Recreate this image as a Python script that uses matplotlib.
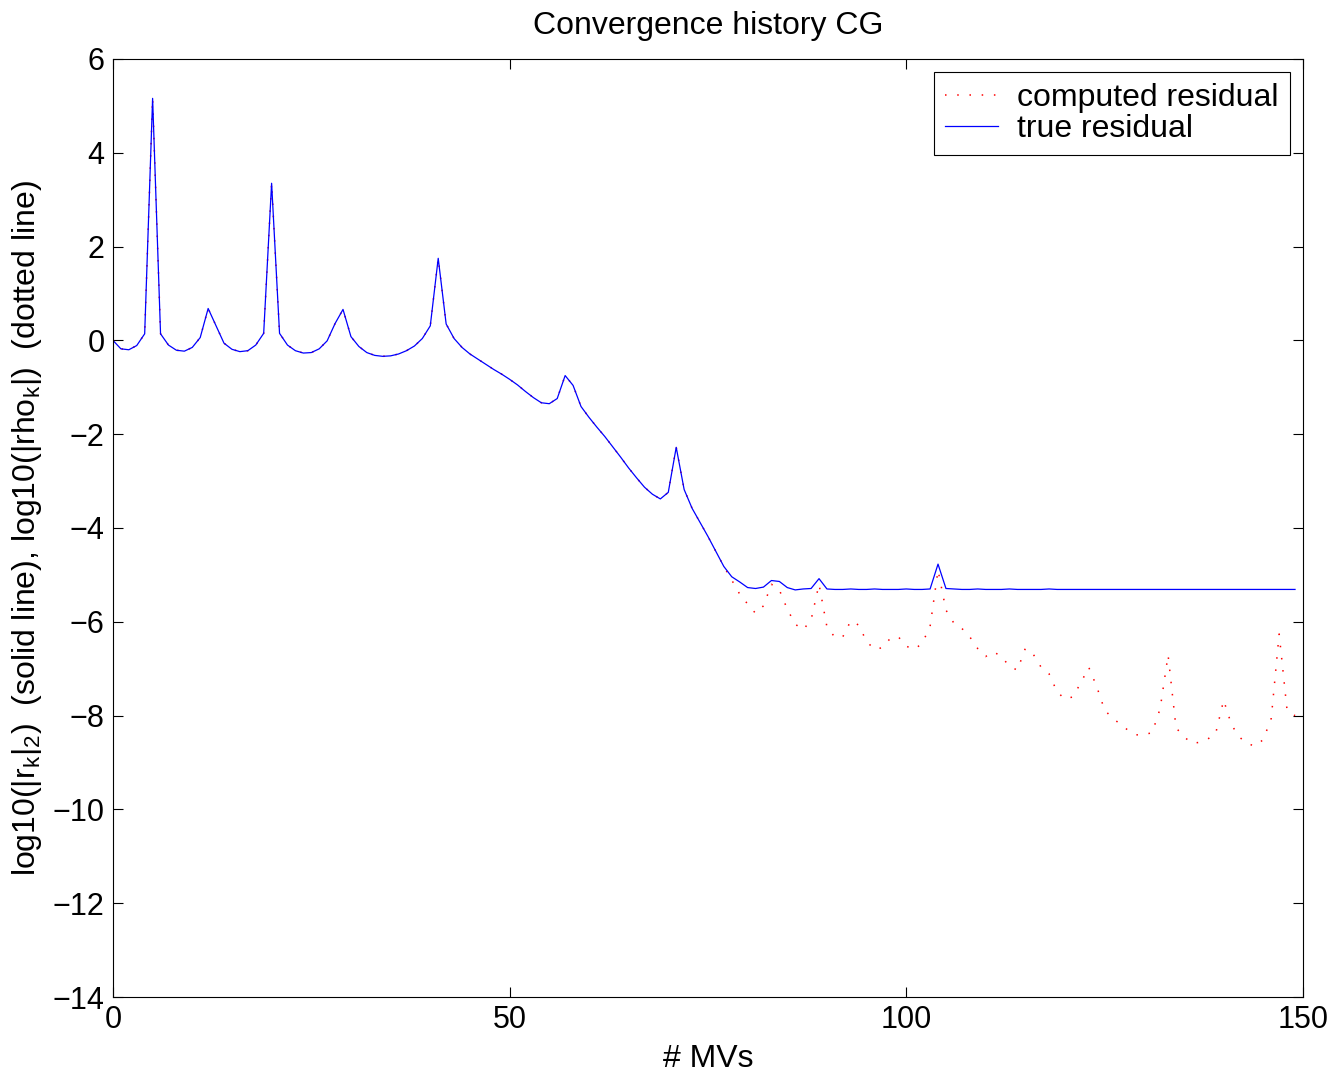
import numpy as np
import matplotlib
matplotlib.use("Agg")
import matplotlib.pyplot as plt

plt.rcParams['font.family'] = ['Liberation Sans', 'DejaVu Sans']
plt.rcParams['mathtext.fontset'] = 'custom'
plt.rcParams['mathtext.rm'] = 'Liberation Sans'
plt.rcParams['mathtext.it'] = 'Liberation Sans'
plt.rcParams['axes.linewidth'] = 0.8

# ---- data: log10 residual norms per matrix-vector product ----
mvs = np.arange(150)

true_res = [
    0.00, -0.18, -0.20, -0.11, 0.14, 5.16, 0.14, -0.10, -0.21, -0.23,
    -0.15, 0.06, 0.68, 0.31, -0.06, -0.19, -0.24, -0.22, -0.10, 0.15,
    3.35, 0.15, -0.10, -0.22, -0.27, -0.26, -0.18, -0.01, 0.36, 0.66,
    0.08, -0.13, -0.26, -0.32, -0.34, -0.33, -0.29, -0.22, -0.12, 0.04,
    0.31, 1.75, 0.35, 0.04, -0.15, -0.29, -0.40, -0.51, -0.62, -0.72,
    -0.83, -0.95, -1.09, -1.22, -1.33, -1.35, -1.24, -0.75, -0.96, -1.41,
    -1.64, -1.85, -2.05, -2.27, -2.49, -2.72, -2.93, -3.13, -3.28, -3.38,
    -3.24, -2.28, -3.18, -3.58, -3.88, -4.18, -4.50, -4.82, -5.04, -5.15,
    -5.27, -5.29, -5.26, -5.12, -5.14, -5.27, -5.32, -5.30, -5.29, -5.08,
    -5.30, -5.31, -5.31, -5.30, -5.31, -5.31, -5.30, -5.31, -5.31, -5.31,
    -5.30, -5.31, -5.31, -5.30, -4.77, -5.29, -5.30, -5.31, -5.31, -5.30,
    -5.31, -5.31, -5.31, -5.30, -5.31, -5.31, -5.31, -5.31, -5.30, -5.31,
    -5.31, -5.31, -5.31, -5.31, -5.31, -5.31, -5.31, -5.31, -5.31, -5.31,
    -5.31, -5.31, -5.31, -5.31, -5.31, -5.31, -5.31, -5.31, -5.31, -5.31,
    -5.31, -5.31, -5.31, -5.31, -5.31, -5.31, -5.31, -5.31, -5.31, -5.31,
]

# recursively updated residual |rho_k| departs from the true one after 78 MVs
computed_tail = [
    -5.11, -5.41, -5.62, -5.82, -5.66, -5.20, -5.32, -5.73, -6.05, -6.17,
    -5.96, -5.20, -6.11, -6.33, -6.32, -5.98, -6.07, -6.42, -6.59, -6.55,
    -6.35, -6.32, -6.52, -6.59, -6.46, -6.10, -4.90, -5.75, -6.03, -6.14,
    -6.32, -6.57, -6.74, -6.64, -6.74, -6.95, -7.03, -6.57, -6.69, -6.97,
    -7.11, -7.49, -7.65, -7.60, -7.30, -6.97, -7.38, -7.88, -8.06, -8.18,
    -8.32, -8.41, -8.41, -8.36, -7.85, -6.71, -8.26, -8.45, -8.59, -8.57,
    -8.50, -8.38, -7.67, -8.20, -8.46, -8.60, -8.65, -8.51, -8.06, -6.26,
    -7.89, -8.00,
]
computed_res = true_res[:78] + computed_tail

fig = plt.figure(figsize=(13.35, 10.76), dpi=100)
ax = fig.add_axes([0.0846, 0.0734, 0.8914, 0.8718])

ax.plot(mvs, computed_res, color='#ff0000', lw=1.1, linestyle=(0, (1.0, 7.0)),
        label='computed residual')
ax.plot(mvs, true_res, color='#0000ff', lw=0.9, label='true residual')

ax.set_xlim(0, 150)
ax.set_ylim(-14, 6)
ax.set_xticks([0, 50, 100, 150])
ax.set_yticks(np.arange(-14, 7, 2))
ax.set_yticklabels([str(v).replace('-', '\u2212') for v in range(-14, 7, 2)])
ax.tick_params(direction='in', top=True, right=True, length=7.5, width=0.8,
               labelsize=22, pad=6)

ax.set_title('Convergence history CG', fontsize=23, pad=18)
ax.set_xlabel('# MVs', fontsize=23, labelpad=6)
ax.set_ylabel(r'log10(|r$_\mathrm{k}$|$_\mathrm{2}$)  (solid line), '
              r'log10(|rho$_\mathrm{k}$|)  (dotted line)', fontsize=23, labelpad=6)

leg = ax.legend(loc='upper right', bbox_to_anchor=(0.989, 0.986), fontsize=23,
                fancybox=False, framealpha=1, edgecolor='black',
                handlelength=1.65, handletextpad=0.6, borderpad=0.35,
                labelspacing=0.02, borderaxespad=0)
leg.get_frame().set_linewidth(0.8)

fig.savefig('out.png', dpi=100)
